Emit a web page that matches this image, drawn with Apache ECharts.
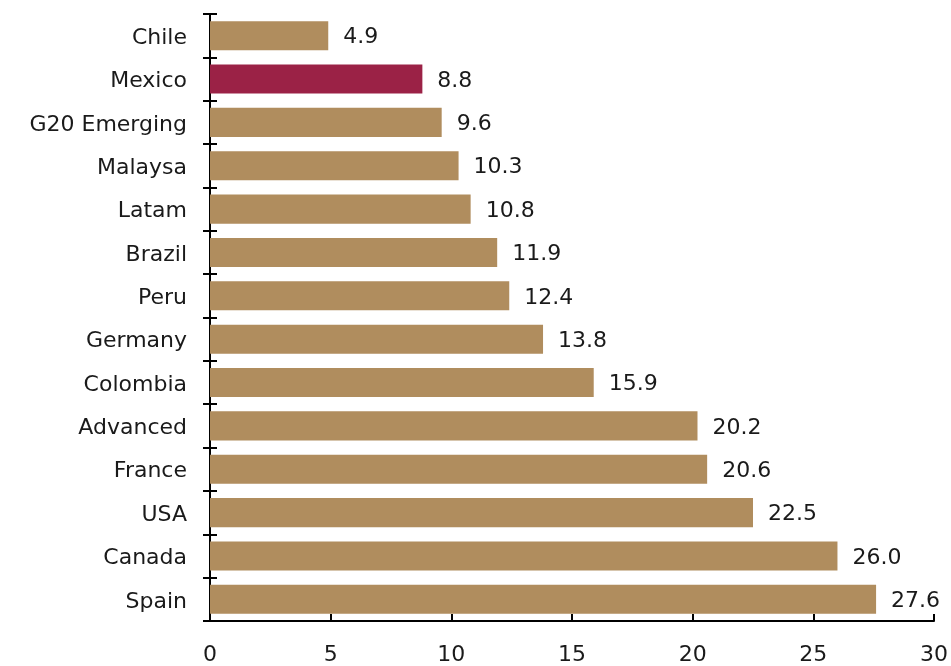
<!DOCTYPE html>
<html>
<head>
<meta charset="utf-8">
<script src="https://cdn.jsdelivr.net/npm/echarts@6/dist/echarts.min.js"></script>
<style>
  html, body { margin: 0; padding: 0; background: #fff; }
  #chart { width: 951px; height: 666px; }
</style>
</head>
<body>
<div id="chart"></div>
<script>
// Categories listed top to bottom
const countries = ['Chile', 'Mexico', 'G20 Emerging', 'Malaysa', 'Latam', 'Brazil', 'Peru',
  'Germany', 'Colombia', 'Advanced', 'France', 'USA', 'Canada', 'Spain'];
const values = [4.9, 8.8, 9.6, 10.3, 10.8, 11.9, 12.4, 13.8, 15.9, 20.2, 20.6, 22.5, 26.0, 27.6];
const highlighted = 'Mexico';
const xTicks = [0, 5, 10, 15, 20, 25, 30];

const FONT = 'DejaVu Sans';
const FONT_SIZE = 22;
const TEXT = '#1a1a1a';
const GOLD = '#B08D5E';
const WINE = '#9B2246';

const chart = echarts.init(document.getElementById('chart'));
const catAxisBase = {
  type: 'category',
  data: countries,
  inverse: true,
  axisLine: { show: true, lineStyle: { color: '#000', width: 2 } },
  splitLine: { show: false }
};
chart.setOption({
  animation: false,
  grid: { left: 210, right: 17, top: 14, bottom: 43 },
  xAxis: {
    type: 'value',
    min: xTicks[0],
    max: xTicks[xTicks.length - 1],
    interval: 5,
    axisLine: { show: true, lineStyle: { color: '#000', width: 2 } },
    axisTick: { show: true, inside: true, length: 7, lineStyle: { color: '#000', width: 2 } },
    axisLabel: { color: TEXT, fontFamily: FONT, fontSize: FONT_SIZE, margin: 23 },
    splitLine: { show: false }
  },
  yAxis: [
    // ticks outside the axis line, with the category labels
    Object.assign({}, catAxisBase, {
      axisTick: { show: true, length: 7, lineStyle: { color: '#000', width: 2 } },
      axisLabel: {
        margin: 23,
        formatter: v => '{c|' + v + '}',
        rich: { c: { color: TEXT, fontFamily: FONT, fontSize: FONT_SIZE, padding: [5, 0, 0, 0] } }
      }
    }),
    // same axis again, ticks inside so they cross the line
    Object.assign({}, catAxisBase, {
      position: 'left',
      axisTick: { show: true, inside: true, length: 7, lineStyle: { color: '#000', width: 2 } },
      axisLabel: { show: false }
    })
  ],
  series: [{
    type: 'bar',
    yAxisIndex: 0,
    barCategoryGap: '33%',
    data: values.map((v, i) => ({
      value: v,
      itemStyle: { color: countries[i] === highlighted ? WINE : GOLD }
    })),
    label: {
      show: true,
      position: 'right',
      distance: 15,
      offset: [0, 2],
      color: TEXT,
      fontFamily: FONT,
      fontSize: FONT_SIZE,
      formatter: p => p.value.toFixed(1)
    }
  }]
});
</script>
</body>
</html>
